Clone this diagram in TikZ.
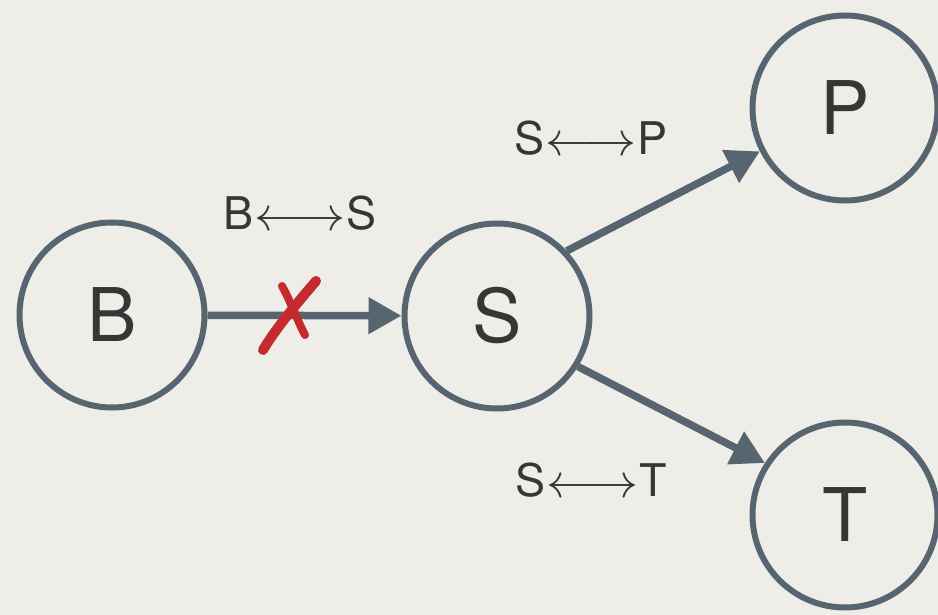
\documentclass[tikz,border=0pt]{standalone}
\usepackage{fontspec}
\setmainfont{TeX Gyre Heros}
\usetikzlibrary{arrows.meta}
\definecolor{paper}{HTML}{EEEDE8}
\definecolor{slate}{HTML}{56656F}
\definecolor{ink}{HTML}{363636}
\definecolor{crossred}{HTML}{C42B2E}
\newcommand{\lrarr}{\kern1pt\raisebox{-1pt}{\scalebox{5.0}[4.8]{\fontsize{10}{12}\selectfont$\longleftrightarrow$}}\kern1pt}
\tikzset{
  state/.style={circle, draw=slate, line width=6pt, minimum size=185pt, inner sep=0pt,
    text=ink, font=\fontsize{74}{80}\selectfont},
  lbl/.style={text=ink, inner sep=0pt, font=\fontsize{45}{50}\selectfont},
  arr/.style={draw=slate, line width=7.5pt, -{Triangle[length=33pt,width=35pt]}},
  crossstroke/.style={draw=crossred, line cap=round, line join=round}
}
\begin{document}
\begin{tikzpicture}[x=1pt,y=-1pt]
\fill[paper] (0,0) rectangle (938,615);
\useasboundingbox (0,0) rectangle (938,615);
\node[state] (B) at (112,315) {B};
\node[state] (S) at (497,316) {S};
\node[state] (P) at (845,108) {P};
\node[state] (T) at (845,515) {T};
\draw[arr] (B) -- (S);
\draw[arr] (S.43) -- (P.207);
\draw[arr] (S.-32) -- (T.147);
\node[lbl] (lbs) at (300,213) {B\lrarr S};
\node[lbl] (lsp) at (591,138) {S\lrarr P};
\node[lbl] (lst) at (591,480) {S\lrarr T};
\draw[crossstroke, line width=8pt] (282,286) .. controls (290,300) and (298,322) .. (305,335);
\draw[crossstroke, line width=10pt] (316,281) .. controls (300,300) and (278,325) .. (263,350);
\end{tikzpicture}
\end{document}
